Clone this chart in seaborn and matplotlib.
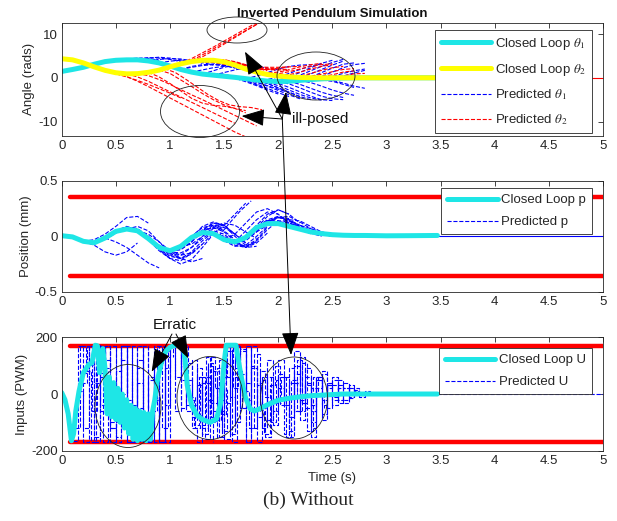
import numpy as np
import seaborn as sns
import matplotlib.pyplot as plt
from matplotlib.patches import Ellipse
from matplotlib.ticker import FormatStrFormatter

# closed loop samples (s)
t_cl = [0.0, 0.1, 0.2, 0.3, 0.4, 0.5, 0.6, 0.7, 0.8, 0.9,
        1.0, 1.1, 1.2, 1.3, 1.4, 1.5, 1.6, 1.7, 1.8, 1.9,
        2.0, 2.1, 2.2, 2.3, 2.4, 2.5, 2.6, 2.7, 2.8, 3.0,
        3.2, 3.47]
theta1_cl = [1.45, 1.9, 2.4, 3.1, 3.7, 4.0, 4.1, 4.1, 3.85, 3.4,
             2.7, 1.9, 1.3, 0.85, 0.6, 0.35, 0.1, -0.2, -0.5, -0.75,
             -0.85, -0.8, -0.6, -0.4, -0.25, -0.12, -0.05, 0.0, 0.0, 0.0,
             0.0, 0.0]
theta2_cl = [4.35, 4.1, 3.4, 2.5, 1.7, 1.15, 0.9, 0.95, 1.25, 1.75,
             2.5, 3.2, 3.7, 4.0, 4.0, 3.65, 2.9, 2.0, 1.3, 0.75,
             0.4, 0.2, 0.08, 0.02, 0.0, 0.0, 0.0, 0.0, 0.0, 0.0,
             0.0, 0.0]
p_cl = [0.006, -0.005, -0.045, -0.058, -0.015, 0.045, 0.066, 0.05, -0.02, -0.1,
        -0.13, -0.09, -0.01, 0.035, 0.025, -0.03, -0.05, -0.01, 0.08, 0.115,
        0.115, 0.09, 0.065, 0.04, 0.025, 0.015, 0.01, 0.008, 0.008, 0.005,
        0.006, 0.008]

t_u = [0.0, 0.03, 0.06, 0.09, 0.11, 0.13, 0.16, 0.2, 0.25, 0.28,
       0.31, 0.33, 0.35, 0.38, 0.4, 0.42, 0.44, 0.46, 0.48, 0.5,
       0.52, 0.54, 0.56, 0.58, 0.6, 0.62, 0.64, 0.66, 0.68, 0.7,
       0.72, 0.74, 0.76, 0.78, 0.8, 0.82, 0.84, 0.86, 0.88, 0.92,
       0.96, 1.0, 1.05, 1.12, 1.14, 1.16, 1.2, 1.25, 1.3, 1.37,
       1.43, 1.47, 1.5, 1.52, 1.61, 1.64, 1.69, 1.74, 1.78, 1.83,
       1.9, 2.0, 2.1, 2.2, 2.3, 2.4, 2.5, 2.6, 3.0, 3.47]
u_cl = [5, -20, -70, -165, -140, -60, 10, 75, 104, 110,
        172, 170, 75, 160, 90, -70, 60, -80, 40, -90,
        20, -100, 0, -120, -20, -140, -40, -160, -50, -165,
        -60, -160, -65, -165, -70, -160, -60, -20, 40, 110,
        150, 165, 172, 172, 120, 30, -40, -75, -90, -100,
        -88, -30, 110, 172, 172, 100, -5, -52, -60, -52,
        -38, -22, -15, -10, -6, -4, -2, 0, 0, 0]

# predicted trajectories: start time + values every pred_dt
pred_dt = 0.1
pred_theta1_start = [0.6, 0.8, 1.0, 1.2, 1.3, 1.4, 1.5, 1.6, 1.7, 1.8,
                     1.9, 2.0, 2.1, 2.1, 2.2, 2.3, 2.4, 1.1, 0.5, 0.7,
                     0.9, 1.1, 1.4, 1.5, 1.6, 1.7, 1.8, 1.9, 2.0, 2.2,
                     2.3, 2.4, 2.5, 1.3]
pred_theta1 = [
    [4.1, 4.4, 4.6, 4.5, 4.2, 3.7],
    [3.85, 4.2, 4.4, 4.3, 3.9, 3.3],
    [2.7, 3.2, 3.6, 3.7, 3.4, 2.9, 2.2],
    [1.3, 1.8, 2.3, 2.6, 2.5, 2.0, 1.2],
    [0.85, 1.0, 0.8, 0.2, -0.6, -1.6, -2.6],
    [0.6, 0.4, -0.1, -0.9, -1.8, -2.8, -3.7],
    [0.35, 0.0, -0.6, -1.4, -2.4, -3.4, -4.3],
    [0.1, -0.3, -1.0, -1.9, -2.9, -3.9, -4.8],
    [-0.2, 0.4, 1.2, 2.0, 2.6, 2.9, 3.0],
    [-0.5, -1.0, -1.8, -2.8, -3.8, -4.6, -5.1],
    [-0.75, -1.3, -2.2, -3.2, -4.2, -5.0, -5.2],
    [-0.85, -0.3, 0.6, 1.6, 2.6, 3.5, 4.2],
    [-0.8, -0.1, 0.9, 1.9, 2.9, 3.8],
    [-0.8, -1.5, -2.4, -3.3, -4.0, -4.5],
    [-0.6, 0.2, 1.2, 2.2, 3.1, 3.4],
    [-0.4, -0.5, -0.8, -1.5, -2.2],
    [-0.25, 0.3, 1.0, 1.6, 2.0],
    [1.9, 2.6, 3.0, 3.1, 2.8, 2.3, 1.7, 1.1],
    [4.0, 4.3, 4.5, 4.4, 4.0],
    [4.1, 4.5, 4.7, 4.5, 4.1, 3.5],
    [3.4, 3.8, 4.0, 3.9, 3.5, 2.9],
    [1.9, 2.4, 2.8, 3.0, 2.8, 2.4, 1.8],
    [0.6, 1.2, 1.8, 2.3, 2.5, 2.3],
    [0.35, 0.1, -0.4, -1.0, -1.8, -2.6, -3.4],
    [0.1, 0.0, -0.5, -1.3, -2.3, -3.3, -4.3],
    [-0.2, -0.6, -1.3, -2.3, -3.3, -4.3, -5.0],
    [-0.5, -0.4, 0.2, 1.0, 1.9, 2.7, 3.2],
    [-0.75, -0.5, 0.2, 1.2, 2.3, 3.3, 4.0],
    [-0.85, -1.4, -2.3, -3.3, -4.2, -4.8, -5.0],
    [-0.6, -1.1, -1.9, -2.8, -3.5, -4.0],
    [-0.4, 0.3, 1.3, 2.3, 3.0, 3.3],
    [-0.25, -0.6, -1.2, -1.9, -2.4],
    [-0.12, 0.4, 1.1, 1.7],
    [0.85, 1.6, 2.4, 2.9, 3.0, 2.7, 2.1],
]
pred_theta2_start = [0.2, 0.5, 0.6, 0.7, 0.8, 0.9, 1.0, 1.2, 1.2, 1.3,
                     1.5, 1.7, 1.9, 2.0, 2.2, 2.4, 1.4, 0.3, 0.4, 1.0,
                     1.1, 1.4, 1.6, 1.8, 2.1, 2.3, 0.95, 1.15]
pred_theta2 = [
    [3.4, 2.4, 1.5, 0.9, 0.6, 0.7],
    [1.15, 0.3, -0.8, -2.0, -3.3, -4.6, -5.9, -7.2, -8.5, -9.8, -11.1, -12.4, -13.5],
    [0.9, 0.2, -0.8, -2.0, -3.2, -4.4, -5.6, -6.8, -8.0, -9.2, -10.4],
    [0.95, 0.5, -0.4, -1.5, -2.7, -3.9, -5.0, -6.2, -7.4, -8.6, -9.8, -11.0],
    [1.25, 0.2, -1.3, -3.0, -4.7, -5.8, -6.3, -6.5, -7.0, -8.0],
    [1.75, 1.0, -0.5, -2.0, -3.6, -5.0, -6.2, -7.0, -7.5],
    [2.5, 3.3, 4.4, 5.7, 7.0, 8.4, 9.8, 11.2, 12.6, 14.0],
    [3.7, 4.8, 6.2, 7.7, 9.2, 10.7, 12.2, 13.7],
    [3.7, 4.1, 4.2, 3.9, 3.2, 2.3, 1.5],
    [4.0, 4.2, 4.1, 3.6, 2.9, 2.2, 1.6],
    [3.65, 3.4, 2.9, 2.5, 2.2, 2.0, 1.9],
    [2.0, 1.8, 1.9, 2.2, 2.5, 2.6],
    [0.75, 0.9, 1.4, 2.0, 2.6, 3.0, 3.2],
    [0.4, 0.7, 1.3, 2.0, 2.6, 3.0],
    [0.08, 0.3, 0.8, 1.4, 1.9, 2.1],
    [0.0, 0.1, 0.4, 0.9, 1.0],
    [4.0, 3.8, 3.3, 2.7, 2.2, 1.9, 1.8, 1.8],
    [2.5, 1.6, 1.0, 0.8, 1.0, 1.4],
    [1.7, 0.9, 0.2, -0.6, -1.5, -2.5, -3.5, -4.6],
    [2.5, 3.2, 3.6, 3.7, 3.5, 3.1, 2.6],
    [3.2, 3.7, 4.0, 4.0, 3.6, 2.9, 2.1],
    [4.0, 4.1, 3.7, 3.0, 2.4, 2.0, 1.8],
    [2.9, 2.7, 2.5, 2.4, 2.4, 2.5],
    [1.3, 1.1, 1.3, 1.8, 2.5, 3.0, 3.3],
    [0.2, 0.4, 1.0, 1.7, 2.3, 2.6],
    [0.02, 0.2, 0.7, 1.3, 1.6],
    [2.1, 1.2, -0.4, -2.1, -3.8, -5.2, -6.2, -6.6, -6.8, -7.3],
    [3.5, 4.6, 5.9, 7.3, 8.7, 10.1, 11.5, 12.9],
]
pred_p_start = [0.2, 0.2, 0.4, 0.4, 0.6, 0.7, 0.8, 0.9, 0.9, 1.0,
                1.1, 1.2, 1.2, 1.3, 1.4, 1.4, 1.5, 1.5, 1.6, 1.7,
                1.8, 1.9, 2.0, 2.2, 0.3, 0.5, 0.6, 0.8, 0.9, 1.0,
                1.0, 1.1, 1.2, 1.3, 1.3, 1.4, 1.45, 1.5, 1.6, 1.6,
                1.7, 1.8, 1.8, 1.9, 2.0, 2.1, 2.3, 0.7]
pred_p = [
    [-0.045, -0.03, 0.02, 0.09, 0.17, 0.18, 0.12],
    [-0.045, -0.08, -0.14, -0.17, -0.14, -0.06],
    [-0.015, 0.05, 0.09, 0.06, -0.03, -0.13, -0.2],
    [-0.015, -0.05, -0.1, -0.17, -0.24, -0.285],
    [0.066, 0.05, -0.02, -0.12, -0.2, -0.22, -0.15],
    [0.05, 0.0, -0.09, -0.17, -0.2, -0.16, -0.07],
    [-0.02, -0.11, -0.18, -0.2, -0.14, -0.04, 0.04],
    [-0.1, -0.16, -0.17, -0.1, 0.0, 0.08, 0.1],
    [-0.1, -0.2, -0.25, -0.21, -0.1, 0.02],
    [-0.13, -0.12, -0.05, 0.05, 0.12, 0.1, 0.02],
    [-0.09, -0.03, 0.06, 0.12, 0.1, 0.0, -0.08],
    [-0.01, 0.05, 0.08, 0.04, -0.04, -0.1, -0.09],
    [-0.01, 0.09, 0.13, 0.1, 0.02, -0.06],
    [0.035, 0.05, 0.02, -0.06, -0.1, -0.06, 0.03],
    [0.025, 0.1, 0.2, 0.3],
    [0.025, -0.02, -0.08, -0.1, -0.04, 0.06, 0.14],
    [-0.03, -0.06, -0.04, 0.04, 0.13, 0.18, 0.16],
    [-0.03, 0.02, 0.12, 0.22, 0.25, 0.2],
    [-0.05, 0.0, 0.1, 0.2, 0.24, 0.2],
    [-0.01, 0.08, 0.15, 0.18, 0.15, 0.08, 0.02],
    [0.08, 0.14, 0.17, 0.14, 0.08, 0.03, 0.0],
    [0.115, 0.17, 0.18, 0.13, 0.07, 0.02, 0.0],
    [0.115, 0.12, 0.09, 0.05, 0.02, 0.0],
    [0.065, 0.05, 0.03, 0.01, 0.0],
    [-0.058, -0.03, 0.03, 0.07, 0.06, 0.0],
    [0.045, 0.08, 0.07, 0.0, -0.09, -0.15],
    [0.066, 0.09, 0.05, -0.05, -0.15, -0.2],
    [-0.02, -0.08, -0.14, -0.15, -0.1, -0.02, 0.05],
    [-0.1, -0.13, -0.12, -0.05, 0.04, 0.1, 0.1],
    [-0.13, -0.17, -0.15, -0.07, 0.03, 0.09],
    [-0.13, -0.08, 0.0, 0.08, 0.1, 0.05, -0.03],
    [-0.09, -0.07, 0.0, 0.07, 0.08, 0.02, -0.06],
    [-0.01, 0.02, 0.03, 0.0, -0.06, -0.09, -0.05],
    [0.035, 0.09, 0.12, 0.1, 0.04, -0.02],
    [0.035, 0.02, -0.04, -0.09, -0.08, 0.0, 0.09],
    [0.025, 0.0, -0.06, -0.09, -0.03, 0.08],
    [0.0, 0.12, 0.23, 0.32],
    [-0.03, -0.04, 0.0, 0.08, 0.14, 0.14, 0.08],
    [-0.05, -0.02, 0.05, 0.13, 0.17, 0.15, 0.1],
    [-0.05, 0.05, 0.15, 0.22, 0.2, 0.12],
    [-0.01, 0.04, 0.1, 0.14, 0.14, 0.1, 0.05],
    [0.08, 0.18, 0.24, 0.2, 0.12],
    [0.08, 0.11, 0.13, 0.12, 0.07, 0.03],
    [0.115, 0.13, 0.12, 0.08, 0.04, 0.01],
    [0.115, 0.15, 0.14, 0.09, 0.04, 0.01, 0.0],
    [0.09, 0.1, 0.07, 0.04, 0.01, 0.0],
    [0.04, 0.04, 0.02, 0.005, 0.0],
    [0.05, 0.02, -0.05, -0.13, -0.2, -0.23, -0.2],
]
pred_u_dt = 0.05
pred_u_start = [0.1, 0.15, 0.2, 0.3, 0.35, 0.45, 0.55, 0.6, 0.7, 0.75,
                0.8, 0.85, 0.95, 1.05, 1.1, 1.15, 1.2, 1.25, 1.3, 1.35,
                1.4, 1.45, 1.55, 1.6, 1.65, 1.7, 1.75, 1.85, 1.9, 2.0,
                2.05, 2.1, 2.15, 2.2, 2.3, 2.4, 2.5, 2.55, 0.12, 0.18,
                0.25, 0.4, 0.5, 0.65, 0.78, 0.9, 1.0, 1.12, 1.18, 1.28,
                1.32, 1.38, 1.42, 1.5, 1.68, 1.78, 1.82, 1.95, 2.02, 2.12,
                2.25, 2.35, 2.45, 2.6]
pred_u = [
    [-165, 170, -120, 170, 40, 170, 100],
    [10, -170, 170, 170, -40, 150],
    [75, 170, -150, 60, 170, -100, 20],
    [172, -60, 120, -170, 80, 170],
    [75, 170, -120, -170, 170, -60],
    [20, -150, 170, -80, -170, 90, 170],
    [0, 170, -170, 40, -100, 170],
    [-20, -170, 120, -170, 60, -130],
    [-165, 170, -80, 100, -170, 170],
    [-90, 50, -170, 170, -40, 120],
    [-70, 170, -170, 90, 170, 170],
    [-20, -170, 130, 170, -60, 170],
    [150, 170, 170, -50, 110, 40],
    [172, 100, -40, -120, -170, 60],
    [172, 50, -80, 30, -140, 90],
    [30, -60, 90, -110, 40, -170],
    [-40, 60, -120, 100, -60, 0, 110],
    [-75, 40, 110, -90, -20, 80],
    [-90, -20, 80, -150, 60, 170],
    [-100, 20, -60, 100, -10, -110],
    [-95, 120, -30, -140, 60, 170],
    [-60, -160, 170, 90, -50, 170],
    [172, 170, -50, 170, -120, 20],
    [172, 160, -170, 100, 30, -60],
    [70, -170, 170, -80, 60, -30],
    [-20, 90, -170, 50, -90, 40],
    [-55, 40, -120, 60, -60, 20, -40],
    [-50, 120, -30, 60, -140, 40, -20],
    [-38, -110, 70, -20, 90, -60, 30],
    [-22, 60, -150, 40, 130, -50, 20, -10],
    [-18, -80, 100, -30, 60, -120, 10],
    [-15, 150, -90, 40, -60, 20, 80, -20],
    [-12, -60, 30, -150, 50, -20, 40],
    [-10, 90, -40, 60, -90, 30, -10, 20],
    [-6, 50, -70, 20, 60, -30, 10],
    [-4, 40, -20, 50, -30, 20, 10],
    [-2, 20, 40, -10, 20, 5],
    [0, -20, 30, 15, -5, 10, 0],
    [-120, 170, 80, -170, 170, 120],
    [40, 170, -60, 170, -170, 80],
    [104, -170, 170, 40, -120, 170],
    [90, 170, -100, 170, -170, 50],
    [-90, 120, -170, 170, -50, -170],
    [-40, 170, -120, -170, 100, -60],
    [-165, -60, 170, -120, 170, 130],
    [110, -170, 170, 60, 170, 100],
    [165, 170, 50, -60, 120, -100],
    [172, -20, -110, 60, -160, 40],
    [-10, -120, 40, 130, -80, 60],
    [-85, 60, -30, 90, -130, 20],
    [-95, 130, 20, -70, 150, -40],
    [-100, -150, 60, 170, 20, 170],
    [-90, 40, 170, -170, 80, -50],
    [110, 170, -100, 150, 40, 170],
    [10, -120, 140, -40, -150, 60],
    [-60, 80, -10, -100, 50, -30],
    [-55, -140, 30, 100, -40, 60],
    [-30, 120, -40, -130, 70, -20, 40],
    [-20, -150, 50, -60, 110, -30],
    [-14, 120, -30, -130, 60, 0, -50],
    [-8, -100, 60, -40, 30, 50, -20],
    [-5, 70, -50, 30, -20, 20, 5],
    [-3, -40, 30, 20, -15, 10],
    [0, 20, 10, -10, 5, 0],
]
tail_t = [3.47, 5.0]
tail_v = [0.0, 0.0]

limit_t = [0.08, 5.0]
p_limit = 0.355
u_limit = 170

CYAN = "#1ee6e6"
YELLOW = "#ffff00"
RED = "#ff0000"
BLUE = "#0000ff"
GREY = "#262626"

sns.set_theme(style="white")
plt.rcParams["font.family"] = ["Liberation Sans", "DejaVu Sans"]
plt.rcParams["mathtext.fontset"] = "stix"
plt.rcParams["axes.unicode_minus"] = False

fig = plt.figure(figsize=(6.17, 5.21), dpi=100)
ax1 = fig.add_axes([0.1, 0.739, 0.8773, 0.2175])
ax2 = fig.add_axes([0.1, 0.4401, 0.8773, 0.2125])
ax3 = fig.add_axes([0.1, 0.1349, 0.8773, 0.2177])


def draw_preds(ax, starts, values, dt, color, label, steps=False):
    for i, (t0, vals) in enumerate(zip(starts, values)):
        t = t0 + dt * np.arange(len(vals))
        sns.lineplot(x=t, y=vals, ax=ax, color=color, linewidth=0.8,
                     linestyle="--", sort=False, errorbar=None,
                     drawstyle="steps-post" if steps else "default",
                     label=label if i == 0 else "_nolegend_")


def style_axis(ax, ylim, yticks, ylabel):
    ax.set_xlim(0, 5)
    ax.set_ylim(*ylim)
    ax.set_xticks(np.arange(0, 5.01, 0.5))
    ax.set_yticks(yticks)
    ax.xaxis.set_major_formatter(FormatStrFormatter("%g"))
    ax.yaxis.set_major_formatter(FormatStrFormatter("%g"))
    ax.tick_params(direction="in", top=True, right=True, length=3.5,
                   width=0.6, color=GREY, labelcolor=GREY, labelsize=9.5, pad=3)
    for s in ax.spines.values():
        s.set_color(GREY)
        s.set_linewidth(0.6)
    ax.set_ylabel(ylabel, fontsize=9.5, color=GREY, labelpad=2)
    ax.set_xlabel("")


def add_legend(ax, order, anchor):
    h, l = ax.get_legend_handles_labels()
    lookup = dict(zip(l, h))
    leg = ax.legend([lookup[k] for k in order], order, loc="upper right",
                    bbox_to_anchor=anchor, borderaxespad=0, fontsize=9.5,
                    handlelength=3.8, handletextpad=0.3, labelspacing=0.75,
                    frameon=True, fancybox=False, framealpha=1, borderpad=0.45)
    leg.get_frame().set_edgecolor(GREY)
    leg.get_frame().set_linewidth(0.6)
    leg.set_zorder(20)


# 1 angles
draw_preds(ax1, pred_theta1_start, pred_theta1, pred_dt, BLUE, r"Predicted $\theta_1$")
draw_preds(ax1, pred_theta2_start, pred_theta2, pred_dt, RED, r"Predicted $\theta_2$")
ax1.plot(tail_t, tail_v, color=RED, linewidth=0.8)
sns.lineplot(x=t_cl, y=theta1_cl, ax=ax1, color=CYAN, linewidth=3.6,
             errorbar=None, label=r"Closed Loop $\theta_1$")
sns.lineplot(x=t_cl, y=theta2_cl, ax=ax1, color=YELLOW, linewidth=3.6,
             errorbar=None, label=r"Closed Loop $\theta_2$")
style_axis(ax1, (-13.3, 12.6), [-10, 0, 10], "Angle (rads)")
ax1.set_title("Inverted Pendulum Simulation", fontsize=9.5, fontweight="bold",
              color="#111111", pad=4)
add_legend(ax1, [r"Closed Loop $\theta_1$", r"Closed Loop $\theta_2$",
                 r"Predicted $\theta_1$", r"Predicted $\theta_2$"], (0.98, 0.936))

# 2 position
ax2.plot(limit_t, [p_limit, p_limit], color=RED, linewidth=3.2)
ax2.plot(limit_t, [-p_limit, -p_limit], color=RED, linewidth=3.2)
draw_preds(ax2, pred_p_start, pred_p, pred_dt, BLUE, "Predicted p")
ax2.plot(tail_t, tail_v, color=BLUE, linewidth=0.8)
sns.lineplot(x=t_cl, y=p_cl, ax=ax2, color=CYAN, linewidth=3.6,
             errorbar=None, label="Closed Loop p")
style_axis(ax2, (-0.5, 0.5), [-0.5, 0, 0.5], "Position (mm)")
add_legend(ax2, ["Closed Loop p", "Predicted p"], (0.98, 0.937))

# 3 inputs
ax3.plot(limit_t, [u_limit, u_limit], color=RED, linewidth=3.2)
ax3.plot(limit_t, [-u_limit, -u_limit], color=RED, linewidth=3.2)
draw_preds(ax3, pred_u_start, pred_u, pred_u_dt, BLUE, "Predicted U", steps=True)
ax3.plot(tail_t, tail_v, color=BLUE, linewidth=0.8, linestyle="--")
sns.lineplot(x=t_u, y=u_cl, ax=ax3, color=CYAN, linewidth=3.6,
             errorbar=None, label="Closed Loop U")
style_axis(ax3, (-200, 200), [-200, 0, 200], "Inputs (PWM)")
ax3.set_xlabel("Time (s)", fontsize=9.5, color=GREY, labelpad=4)
add_legend(ax3, ["Closed Loop U", "Predicted U"], (0.98, 0.906))

# annotations in pixel space
ov = fig.add_axes([0, 0, 1, 1], zorder=30)
ov.set_xlim(0, 617)
ov.set_ylim(521, 0)
ov.axis("off")
ov.patch.set_alpha(0)

for cx, cy, w, h in [(237, 30, 60, 26), (200, 111.5, 79, 52), (316, 76, 78, 48),
                     (128, 406, 66, 83), (210, 398, 66, 83), (294, 398, 67, 82)]:
    ov.add_patch(Ellipse((cx, cy), w, h, fill=False, edgecolor="#222222", linewidth=0.6))

arrow = dict(arrowstyle="-|>,head_length=1.2,head_width=0.45", color="black",
             lw=0.7, shrinkA=0, shrinkB=0)
origin = (282.3, 119)
for head in [(241.7, 116), (245, 51.7), (286, 92), (291, 355)]:
    ov.annotate("", xy=head, xytext=origin, arrowprops=arrow)
ov.text(291.7, 119, "ill-posed", fontsize=11, ha="left", va="center", color="#111111")

ov.text(175, 325, "Erratic", fontsize=11, ha="center", va="center", color="#111111")
ov.annotate("", xy=(151.7, 371.7), xytext=(172, 334), arrowprops=arrow)
ov.annotate("", xy=(188.3, 358.3), xytext=(176, 334), arrowprops=arrow)

fig.text(0.5, 0.040, "(b) Without", fontsize=14, ha="center", va="center",
         family=["Liberation Serif", "DejaVu Serif"])

plt.savefig("out.png", dpi=100)
